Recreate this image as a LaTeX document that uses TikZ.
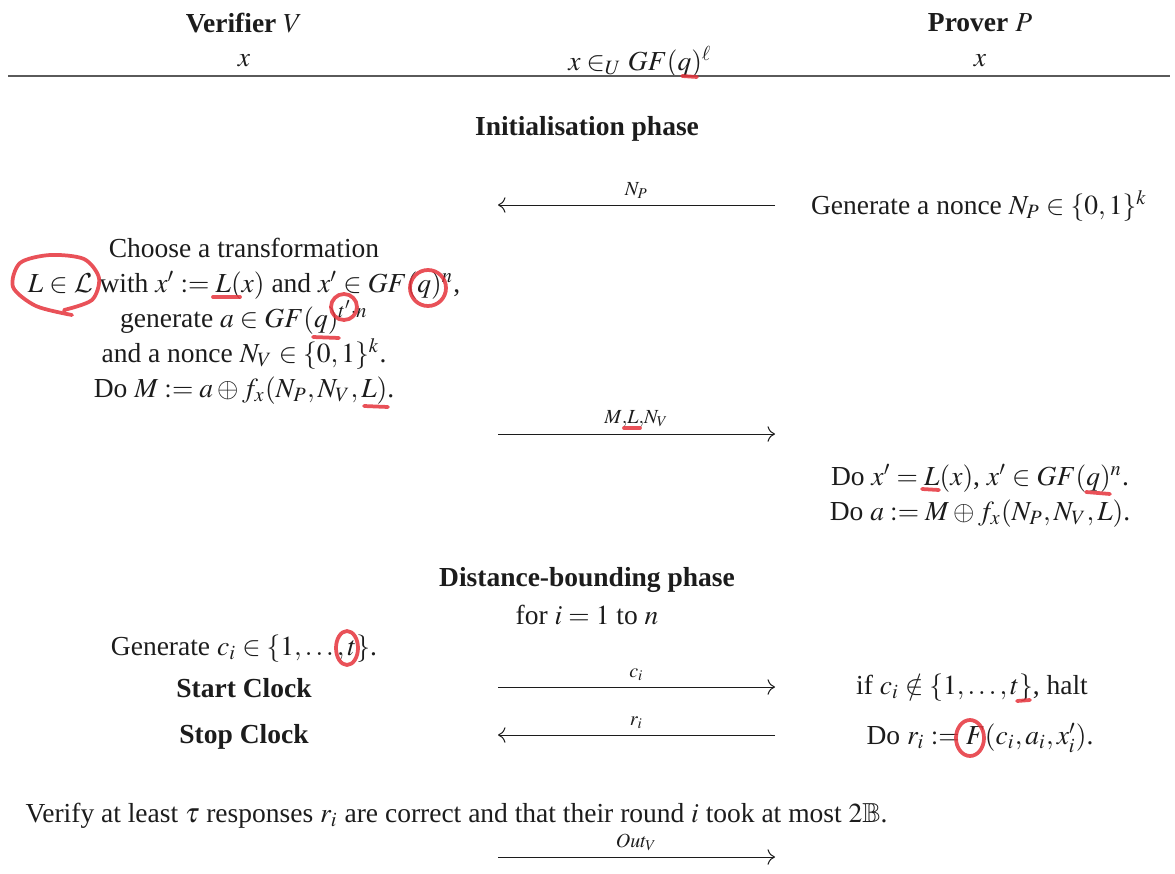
\documentclass[tikz,border=0pt]{standalone}
\usepackage{amsmath}
\usepackage{amssymb}
\usepackage{mathptmx}
\usepackage[no-math]{fontspec}
\setmainfont{Liberation Serif}
\usepackage{xcolor}
\usetikzlibrary{arrows.meta}
\DeclareMathAlphabet{\mathcal}{OMS}{cmsy}{m}{n}
\definecolor{protoink}{HTML}{1C1C1C}
\definecolor{protorule}{HTML}{5A5A5A}
\definecolor{markred}{HTML}{E5323B}

\begin{document}
\begin{tikzpicture}[
  x=0.4pt,
  y=-0.4pt,
  every node/.style={font=\fontsize{11}{14}\selectfont, text=protoink, inner sep=0pt},
  msg/.style={draw=protoink, line width=0.4pt, -{To[scale=1.2]}},
  msglabel/.style={font=\fontsize{8}{9}\selectfont, above=2.5pt},
  marker/.style={draw=markred, line width=1.5pt, line cap=round, line join=round, opacity=0.85}
]
  \useasboundingbox (0,0) rectangle (1175,874);
  \def\colV{244}
  \def\colP{980}
  \def\msgL{498}
  \def\msgR{775}

  % Header
  \node (verifier) at (\colV,23) {\textbf{Verifier} $V$};
  \node (prover) at (\colP,23) {\textbf{Prover} $P$};
  \node (xV) at (\colV,61) {$x$};
  \node (xshared) at (640,62) {$x \in_U GF(q)^{\ell}$};
  \node (xP) at (\colP,61) {$x$};
  \coordinate (ruleL) at (8,76);
  \coordinate (ruleR) at (1170,76);
  \draw[protorule, line width=0.7pt] (ruleL) -- (ruleR);

  % Initialisation phase
  \node (initphase) at (587,129) {\textbf{Initialisation phase}};
  \node (genNP) at (979,206) {Generate a nonce $N_P \in \{0,1\}^k$};
  \coordinate (npR) at (\msgR,205);
  \coordinate (npL) at (\msgL,205);
  \draw[msg] (npR) -- node[msglabel] {$N_P$} (npL);

  \node[align=center] (chooseL) at (\colV,321) {Choose a transformation\\
    $L \in \mathcal{L}$ with $x' := L(x)$ and $x' \in GF(q)^n$,\\
    generate $a \in GF(q)^{t'\cdot n}$\\
    and a nonce $N_V \in \{0,1\}^k$.\\
    Do $M := a \oplus f_x(N_P,N_V,L)$.};
  \coordinate (mlL) at (\msgL,434);
  \coordinate (mlR) at (\msgR,434);
  \draw[msg] (mlL) -- node[msglabel] {$M{,}L{,}N_V$} (mlR);

  \node[align=center] (deriveP) at (\colP,496) {Do $x' = L(x)$, $x' \in GF(q)^n$.\\
    Do $a := M \oplus f_x(N_P,N_V,L)$.};

  % Distance-bounding phase
  \node (dbphase) at (587,580) {\textbf{Distance-bounding phase}};
  \node (loop) at (587,615) {for $i = 1$ to $n$};
  \node (genC) at (\colV,649) {Generate $c_i \in \{1,\ldots,t\}$.};
  \node (start) at (\colV,688) {\textbf{Start Clock}};
  \node (halt) at (972,688) {if $c_i \notin \{1,\ldots,t\}$, halt};
  \coordinate (ciL) at (\msgL,687);
  \coordinate (ciR) at (\msgR,687);
  \draw[msg] (ciL) -- node[msglabel] {$c_i$} (ciR);
  \node (stop) at (\colV,737) {\textbf{Stop Clock}};
  \node (resp) at (\colP,738) {Do $r_i := F(c_i,a_i,x'_i)$.};
  \coordinate (riR) at (\msgR,735);
  \coordinate (riL) at (\msgL,735);
  \draw[msg] (riR) -- node[msglabel] {$r_i$} (riL);

  % Verdict
  \node[anchor=west] (verify) at (25,816) {Verify at least $\tau$ responses $r_i$ are correct and that their round $i$ took at most $2\mathbb{B}$.};
  \coordinate (outL) at (\msgL,857);
  \coordinate (outR) at (\msgR,857);
  \draw[msg] (outL) -- node[msglabel] {$Out_V$} (outR);

  % Red pen marks
  \draw[marker] (682,76) -- (697,77);
  \draw[marker] plot[smooth] coordinates {(72,315) (36,306) (13,287) (20,263) (50,255) (84,259) (99,278) (92,300) (64,310)};
  \draw[marker] (213,297) -- (240,297);
  \draw[marker] (428,288) circle (18);
  \draw[marker] (344,307) circle (13);
  \draw[marker] (313,337) -- (339,338);
  \draw[marker] (364,406) -- (388,407);
  \draw[marker] (624,428) -- (640,428);
  \draw[marker] (922,489) -- (939,490);
  \draw[marker] (1086,492) -- (1110,494);
  \draw[marker] (347,648) ellipse [x radius=11, y radius=17];
  \draw[marker] (1017,701) -- (1030,700);
  \draw[marker] (970,738) ellipse [x radius=14, y radius=18];
\end{tikzpicture}
\end{document}
